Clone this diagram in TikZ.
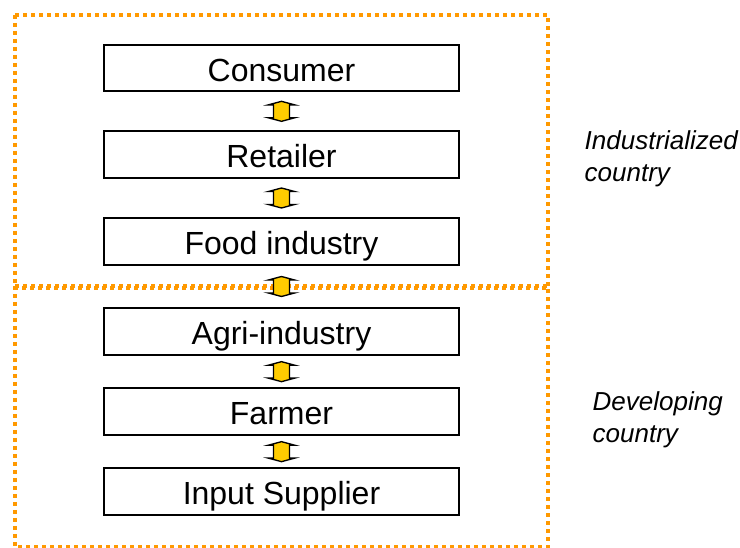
\documentclass[tikz,border=0pt]{standalone}
\usepackage{fontspec}
\setmainfont{Liberation Sans}
\usetikzlibrary{positioning,shapes.arrows}

\definecolor{frameorange}{RGB}{255,153,0}
\definecolor{linkyellow}{RGB}{255,204,0}

\begin{document}
\begin{tikzpicture}[
    x=0.75pt, y=-0.75pt,
    actor/.style={rectangle, draw=black, line width=1.5pt, minimum width=266pt, minimum height=35pt, inner sep=0pt, text height=20pt, text depth=0pt, font=\fontsize{24}{28}\selectfont},
    region/.style={draw=frameorange, line width=3pt, dash pattern=on 3pt off 3pt},
    updown/.style={double arrow, draw=black, fill=linkyellow, line width=1pt, rotate=90, minimum height=15pt, inner xsep=0pt, inner ysep=5.5pt, double arrow head extend=4pt, double arrow tip angle=150},
    country/.style={align=left, anchor=west, font=\fontsize{19.5}{24}\selectfont\itshape}
]
\useasboundingbox (0,0) rectangle (740,548);

% Regions
\draw[region] (15,15) rectangle (548,288);
\draw[region] (15,286) rectangle (548,547);

% Nodes
\node[actor] (consumer) at (281.5,68) {Consumer};
\node[actor, below=28.5pt of consumer] (retailer) {Retailer};
\node[actor, below=28.5pt of retailer] (food) {Food industry};
\node[actor, below=31.25pt of food] (agri) {Agri-industry};
\node[actor, below=23.5pt of agri] (farmer) {Farmer};
\node[actor, below=23.5pt of farmer] (supplier) {Input Supplier};

% Labels
\node[country] (industrialized) at (580,159) {Industrialized\\country};
\node[country] (developing) at (588,420) {Developing\\country};

% Links
\path (consumer) -- node[updown] (link1) {} (retailer);
\path (retailer) -- node[updown] (link2) {} (food);
\path (food) -- node[updown] (link3) {} (agri);
\path (agri) -- node[updown] (link4) {} (farmer);
\path (farmer) -- node[updown] (link5) {} (supplier);

\end{tikzpicture}
\end{document}
